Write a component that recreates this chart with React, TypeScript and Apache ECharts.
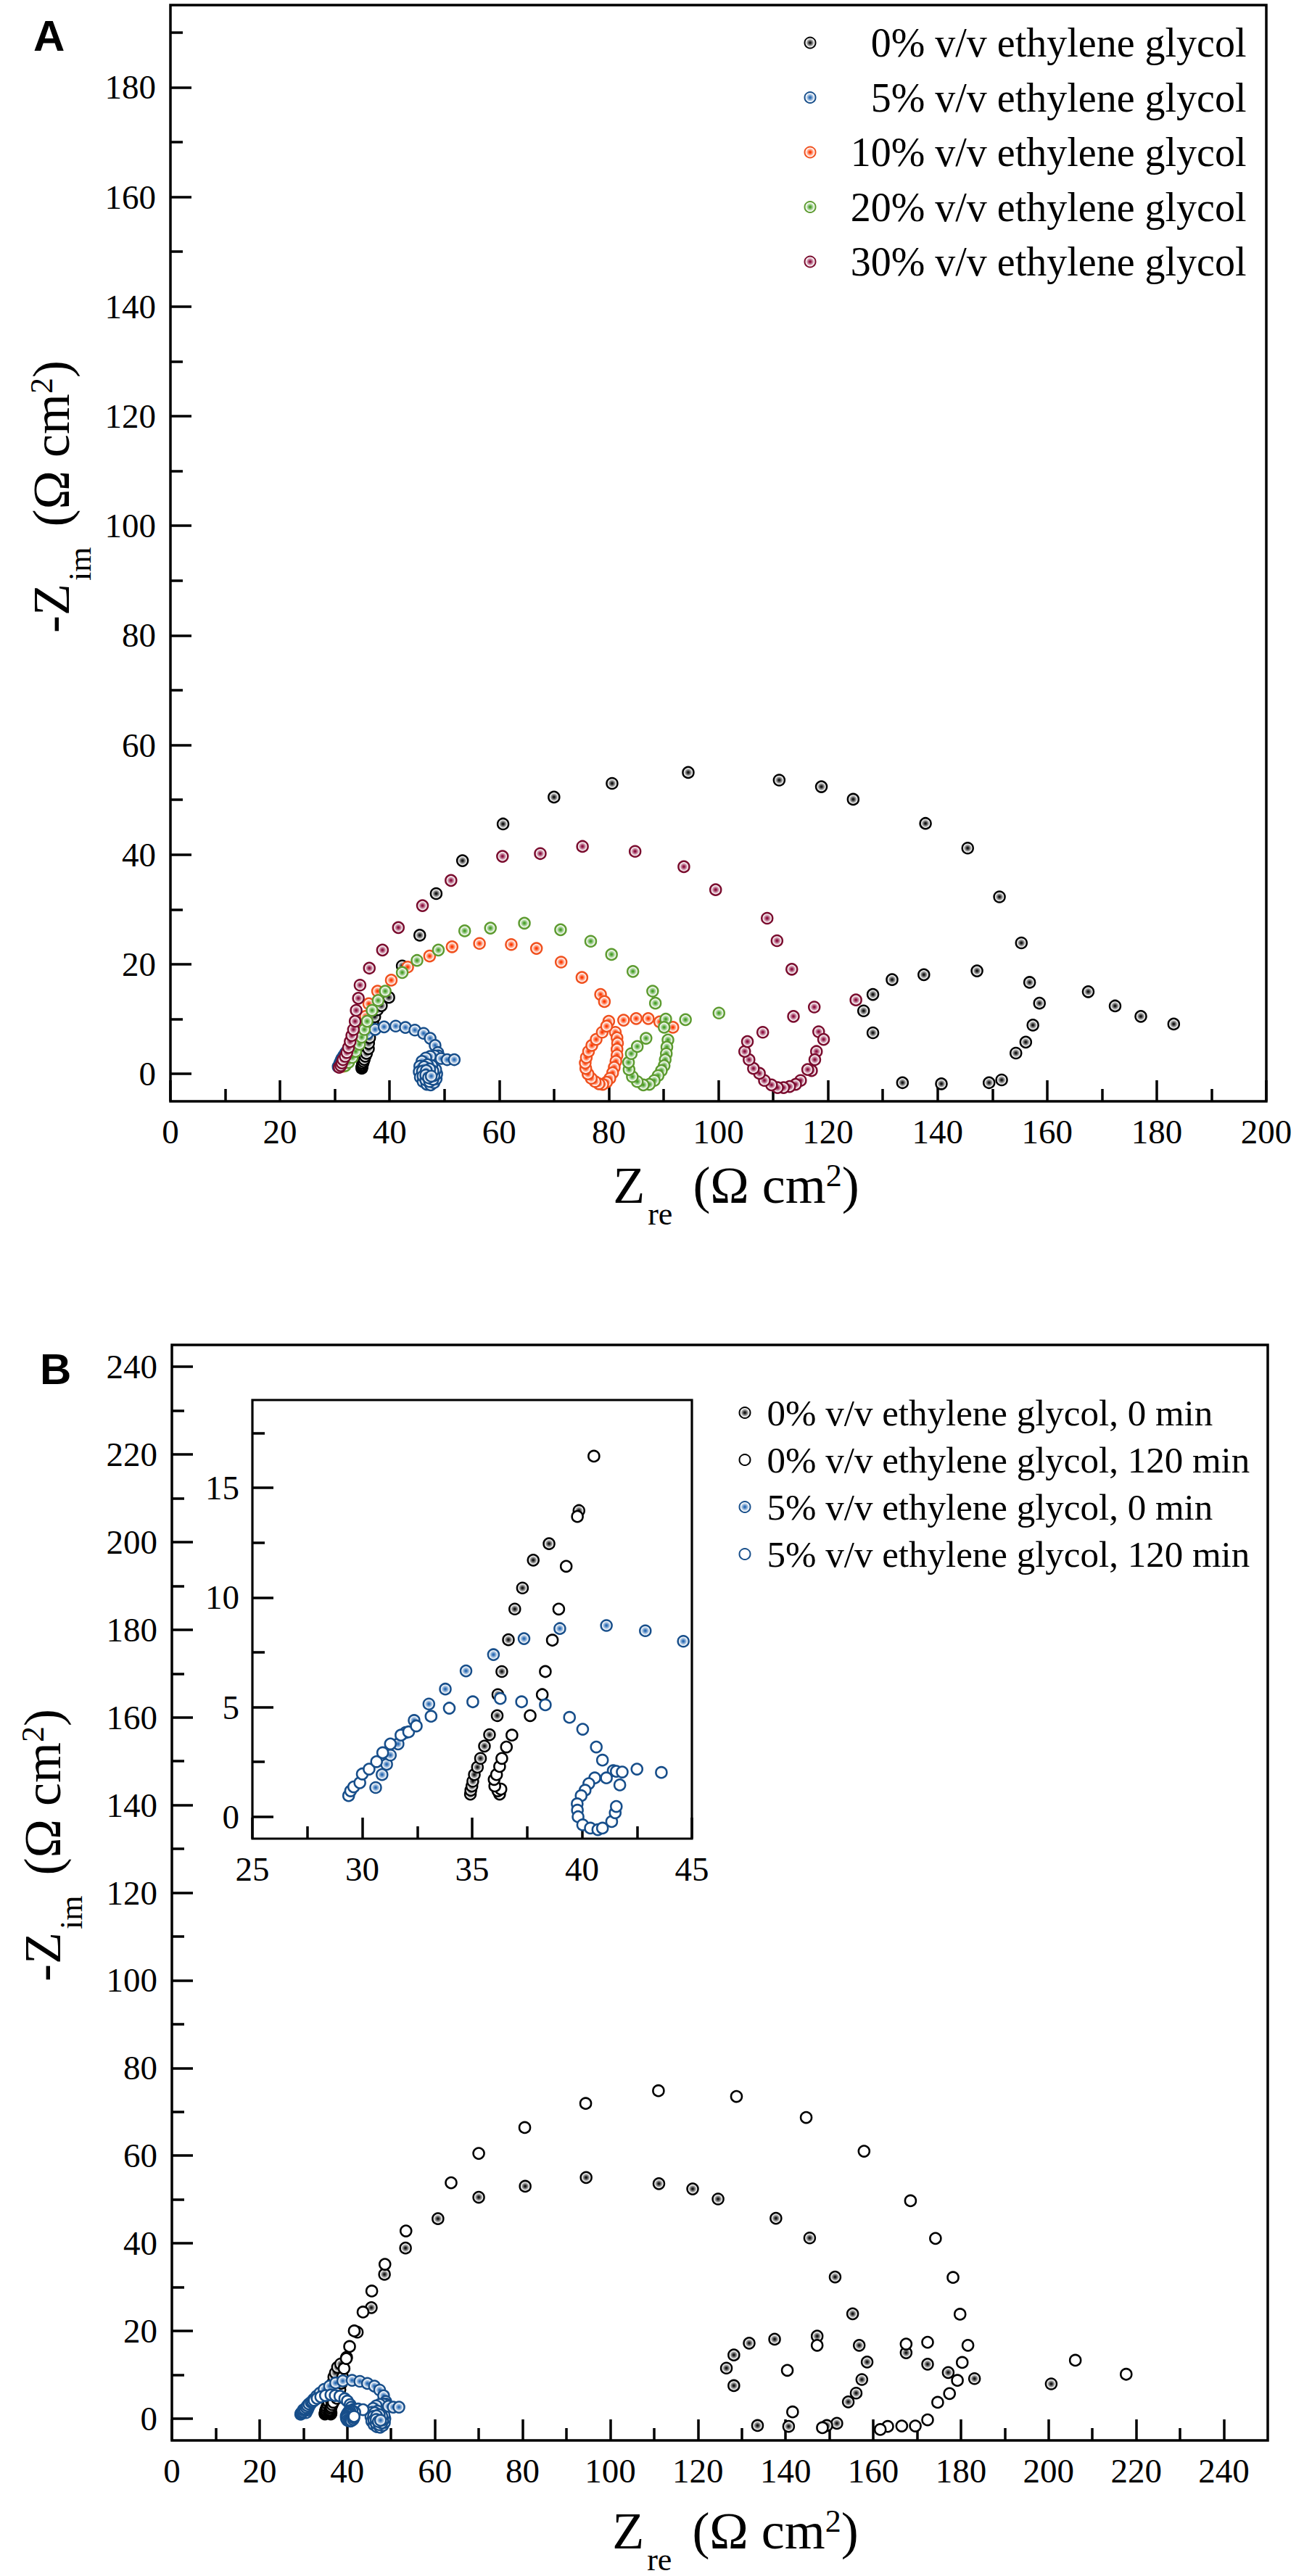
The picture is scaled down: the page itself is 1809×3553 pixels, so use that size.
import React, { useEffect, useRef } from 'react';
import * as echarts from 'echarts';

const SERIF = '"Liberation Serif", "Times New Roman", serif';
const SANS = '"Liberation Sans", Arial, sans-serif';

// ---------- Panel A / B data ----------
const NAMES_A = [
  '0% v/v ethylene glycol',
  '5% v/v ethylene glycol',
  '10% v/v ethylene glycol',
  '20% v/v ethylene glycol',
  '30% v/v ethylene glycol',
];
const NAMES_B = [
  '0% v/v ethylene glycol, 0 min',
  '0% v/v ethylene glycol, 120 min',
  '5% v/v ethylene glycol, 0 min',
  '5% v/v ethylene glycol, 120 min',
];

// 0% v/v, 0 min (filled black)
const EG0_0MIN = [
  [34.92, 1.03], [34.94, 1.21], [34.99, 1.4], [35.03, 1.62], [35.1, 1.92], [35.24, 2.26], [35.38, 2.66],
  [35.56, 3.22], [35.79, 3.74], [36.14, 4.61], [36.17, 5.57], [36.35, 6.62], [36.65, 8.07], [36.94, 9.47],
  [37.29, 10.43], [37.78, 11.7], [38.5, 12.45], [39.86, 13.96],
  [42.3, 19.7], [45.5, 25.3], [48.5, 32.9], [53.3, 38.9], [60.7, 45.6], [70.0, 50.5], [80.6, 53.0],
  [94.5, 55.0], [111.1, 53.6], [118.8, 52.4], [124.6, 50.1], [137.8, 45.7], [145.5, 41.2], [151.3, 32.3],
  [155.3, 23.9], [156.8, 16.7], [158.6, 12.9], [157.4, 8.9], [156.1, 5.8], [154.3, 3.8], [151.7, -1.1],
  [149.4, -1.6], [140.7, -1.8], [133.6, -1.6], [128.2, 7.5], [126.5, 11.5], [128.2, 14.5], [131.7, 17.2],
  [137.5, 18.1], [147.2, 18.8], [167.5, 15.0], [172.4, 12.4], [177.1, 10.5], [183.1, 9.1], [200.6, 7.9],
];

// 5% v/v, 0 min (filled blue)
const EG5_0MIN = [
  [30.61, 1.33], [30.9, 1.92], [31.11, 2.39], [31.28, 2.81], [31.63, 3.32], [31.97, 3.84], [32.36, 4.39],
  [33.03, 5.14], [33.78, 5.82], [34.72, 6.65], [35.97, 7.39], [37.36, 8.12], [38.99, 8.58], [41.11, 8.72],
  [42.88, 8.48], [44.61, 8.0], [46.2, 7.4], [47.4, 6.5], [48.3, 5.2], [48.8, 3.9], [48.9, 3.3],
  [48.2, 3.3], [47.4, 3.2], [46.6, 2.9], [45.9, 2.3], [45.5, 1.4], [45.4, 0.4], [45.6, -0.6], [46.1, -1.4],
  [46.8, -1.9], [47.5, -2.0], [48.1, -1.6], [48.5, -0.9], [48.6, 0.0], [48.4, 0.8],
  [47.7, 1.5], [46.9, 1.7], [46.3, 1.3], [46.0, 0.5], [46.1, -0.4], [46.6, -1.1], [47.3, -1.4], [47.9, -1.0],
  [48.1, -0.3], [47.9, 0.5], [47.3, 0.9], [46.7, 0.6], [46.6, -0.2], [47.1, -0.7], [47.6, -0.4],
  [49.4, 2.8], [50.5, 2.6], [51.8, 2.6],
];

// 10% v/v (orange)
const EG10 = [
  [31.5, 1.4], [31.9, 2.0], [32.4, 3.0], [33.0, 4.2], [33.6, 5.6], [34.3, 7.2], [35.0, 8.8], [35.6, 10.5],
  [36.2, 12.8], [37.8, 15.1], [40.3, 17.1], [43.3, 19.5], [47.3, 21.5], [51.4, 23.2], [56.4, 23.8],
  [62.2, 23.6], [66.8, 22.9], [71.3, 20.4], [75.1, 17.6], [78.5, 14.5], [79.2, 13.2],
  [80.0, 9.6], [82.7, 9.8], [85.0, 10.1], [87.2, 10.1], [89.3, 9.5], [91.7, 8.5],
  [81.2, 7.6], [81.5, 6.6], [81.6, 5.6], [81.5, 4.5], [81.5, 3.4], [81.3, 2.3], [81.0, 1.2], [80.7, 0.2],
  [80.2, -0.8], [79.6, -1.5], [78.9, -1.9], [78.2, -1.8], [77.5, -1.4], [76.8, -0.8], [76.2, 0.0],
  [75.8, 1.0], [75.7, 2.0], [75.9, 3.0], [76.3, 4.1], [76.9, 5.2], [77.7, 6.3], [78.8, 7.6], [79.6, 8.7],
];

// 20% v/v (green)
const EG20 = [
  [31.9, 1.5], [32.5, 2.1], [33.2, 3.0], [33.8, 4.1], [34.5, 5.4], [34.9, 6.7], [35.4, 8.1], [35.9, 9.6],
  [36.8, 11.6], [37.9, 13.4], [39.2, 15.1], [42.3, 18.5], [45.0, 20.7], [48.9, 22.6], [53.7, 26.1],
  [58.4, 26.6], [64.6, 27.5], [71.2, 26.3], [76.7, 24.2], [80.5, 21.8], [84.4, 18.7], [88.0, 15.1],
  [88.5, 12.9], [100.1, 11.1], [94.0, 9.9], [90.4, 10.0], [90.1, 8.5], [90.8, 6.2], [90.6, 4.9],
  [90.5, 3.7], [90.3, 2.6], [90.1, 1.5], [89.6, 0.6], [89.0, -0.3], [88.3, -1.2], [87.4, -1.9],
  [86.3, -2.0], [85.2, -1.4], [84.3, -0.5], [83.7, 0.8], [83.6, 2.1], [84.1, 3.7], [85.2, 5.0], [86.8, 6.5],
];

// 30% v/v (crimson)
const EG30 = [
  [30.8, 1.2], [31.1, 1.5], [31.3, 2.0], [31.5, 2.6], [31.9, 3.2], [32.2, 3.9], [32.5, 4.8], [32.8, 5.9],
  [33.1, 7.0], [33.4, 8.1], [33.7, 9.6], [33.9, 11.6], [34.3, 13.8], [34.6, 16.2], [36.3, 19.3],
  [38.7, 22.6], [41.6, 26.7], [46.0, 30.7], [51.2, 35.3], [60.6, 39.7], [67.5, 40.2], [75.2, 41.5],
  [84.8, 40.6], [93.7, 37.8], [99.5, 33.6], [108.9, 28.4], [110.7, 24.3], [113.4, 19.1], [113.7, 10.5],
  [117.5, 12.2], [118.3, 7.7], [119.2, 6.3], [117.9, 4.1], [117.6, 2.6], [117.0, 0.6], [116.3, 0.8],
  [115.0, -1.2], [114.1, -1.9], [113.0, -2.3], [111.9, -2.5], [110.8, -2.5], [109.7, -2.0], [108.4, -1.2],
  [107.5, 0.1], [106.4, 1.0], [105.6, 2.6], [104.8, 4.1], [105.3, 5.9], [108.1, 7.6], [125.1, 13.5],
];

// 0% v/v, 120 min (open black)
const EG0_120MIN = [
  [36.25, 1.03], [36.17, 1.18], [36.31, 1.26], [36.03, 1.4], [36.0, 1.7], [36.11, 1.92], [36.25, 2.29],
  [36.35, 2.66], [36.56, 3.18], [36.81, 3.72], [37.64, 4.61], [38.19, 5.57], [38.33, 6.62], [38.65, 8.05],
  [38.94, 9.47], [39.28, 11.42], [39.79, 13.69], [40.54, 16.44],
  [41.6, 20.0], [43.6, 24.3], [45.6, 29.1], [48.6, 35.2], [53.4, 42.8], [63.7, 53.8], [70.0, 60.5],
  [80.5, 66.4], [94.4, 71.9], [111.0, 74.8], [128.8, 73.5], [144.7, 68.7], [157.9, 61.0], [168.5, 49.7],
  [174.2, 41.1], [178.2, 32.2], [179.8, 23.8], [181.6, 16.7], [180.3, 12.8], [179.2, 8.7], [177.4, 5.7],
  [174.7, 3.7], [172.4, -0.3], [169.6, -1.7], [166.5, -1.7], [163.3, -1.8], [161.6, -2.5], [148.4, -2.1],
  [141.6, 1.5], [140.4, 11.0], [147.2, 16.7], [167.5, 17.0], [172.4, 17.4], [206.1, 13.3], [217.7, 10.1],
];

// 5% v/v, 120 min (open blue)
const EG5_120MIN = [
  [29.38, 0.96], [29.47, 1.18], [29.61, 1.36], [29.89, 1.55], [30.0, 1.95], [30.31, 2.17], [30.65, 2.51],
  [30.93, 2.92], [31.28, 3.32], [31.76, 3.72], [32.11, 3.87], [32.46, 4.14], [33.13, 4.58], [33.96, 4.95],
  [35.03, 5.24], [36.28, 5.39], [37.25, 5.24], [38.33, 5.1], [39.43, 4.53], [40.03, 3.99], [40.65, 3.18],
  [40.93, 2.58], [41.42, 2.1], [41.56, 2.07], [41.83, 2.04], [42.5, 2.17], [43.61, 2.02], [41.72, 1.45],
  [41.11, 1.77], [40.58, 1.77], [40.31, 1.51], [40.14, 1.21], [39.96, 0.96], [39.78, 0.59], [39.79, 0.3],
  [39.82, 0.0], [40.03, -0.37], [40.38, -0.52], [40.72, -0.59], [40.93, -0.52], [41.35, -0.22],
  [41.51, 0.18], [41.56, 0.47],
];

// ---------- Tick values ----------
const A_X_MAJOR = [0, 20, 40, 60, 80, 100, 120, 140, 160, 180, 200];
const A_X_MINOR = [10, 30, 50, 70, 90, 110, 130, 150, 170, 190];
const A_Y_MAJOR = [0, 20, 40, 60, 80, 100, 120, 140, 160, 180];
const A_Y_MINOR = [10, 30, 50, 70, 90, 110, 130, 150, 170, 190];
const B_X_MAJOR = [0, 20, 40, 60, 80, 100, 120, 140, 160, 180, 200, 220, 240];
const B_X_MINOR = [10, 30, 50, 70, 90, 110, 130, 150, 170, 190, 210, 230];
const B_Y_MAJOR = [0, 20, 40, 60, 80, 100, 120, 140, 160, 180, 200, 220, 240];
const B_Y_MINOR = [10, 30, 50, 70, 90, 110, 130, 150, 170, 190, 210, 230];
const IN_X_MAJOR = [25, 30, 35, 40, 45];
const IN_X_MINOR = [27.5, 32.5, 37.5, 42.5];
const IN_Y_MAJOR = [0, 5, 10, 15];
const IN_Y_MINOR = [2.5, 7.5, 12.5, 17.5];

const COL = {
  black: { fill: '#141414', border: '#000000' },
  blue: { fill: '#2b6cb5', border: '#174e8a' },
  orange: { fill: '#ff3a00', border: '#f0501e' },
  green: { fill: '#48a028', border: '#5d9b30' },
  crimson: { fill: '#8e1040', border: '#7a0c2e' },
};

function filled(c: { fill: string; border: string }) {
  return {
    color: {
      type: 'radial', x: 0.5, y: 0.5, r: 0.5,
      colorStops: [
        { offset: 0, color: c.fill },
        { offset: 0.12, color: c.fill },
        { offset: 0.8, color: '#ffffff' },
        { offset: 1, color: '#ffffff' },
      ],
    },
    borderColor: c.border,
    borderWidth: 2.5,
    opacity: 1,
  };
}
function open(c: { fill: string; border: string }) {
  return { color: '#ffffff', borderColor: c.border, borderWidth: 2.6, opacity: 1 };
}

function scatter(name: string, data: number[][], axisIndex: number, itemStyle: any, z = 2) {
  return {
    type: 'scatter', name, data, xAxisIndex: axisIndex, yAxisIndex: axisIndex,
    symbol: 'circle', symbolSize: 15, itemStyle, clip: true, silent: true, z,
    emphasis: { disabled: true },
  };
}

function axisPair(dim: 'x' | 'y', gridIndex: number, min: number, max: number,
  major: number[], minor: number[], margin: number) {
  const base = {
    type: 'value', gridIndex, min, max, position: dim === 'x' ? 'bottom' : 'left',
    axisLine: { show: false, onZero: false },
    splitLine: { show: false },
  };
  return [
    {
      ...base,
      axisTick: { show: true, inside: true, length: 29, customValues: major, lineStyle: { color: '#000', width: 3.5 } },
      axisLabel: { show: true, customValues: major, margin, color: '#000', fontSize: 47, fontFamily: SERIF },
    },
    {
      ...base,
      axisTick: { show: true, inside: true, length: 17, customValues: minor, lineStyle: { color: '#000', width: 3.5 } },
      axisLabel: { show: false },
    },
  ];
}

function titleRich(big: number) {
  return {
    a: { fontSize: big, fontFamily: SERIF, lineHeight: 80, verticalAlign: 'top', fill: '#000' },
    b: { fontSize: 44, fontFamily: SERIF, lineHeight: 150, verticalAlign: 'middle', padding: [0, 10, 0, 4], fill: '#000' },
    c: { fontSize: 44, fontFamily: SERIF, lineHeight: 36, verticalAlign: 'top', fill: '#000' },
  };
}

export default function App() {
  const ref = useRef<HTMLDivElement>(null);
  useEffect(() => {
    if (!ref.current) return;
    const chart = echarts.init(ref.current, undefined, { renderer: 'svg' });
    const [axA, axAm] = axisPair('x', 0, 0, 200, A_X_MAJOR, A_X_MINOR, 18);
    const [ayA, ayAm] = axisPair('y', 0, -5, 195, A_Y_MAJOR, A_Y_MINOR, 20);
    const [axB, axBm] = axisPair('x', 1, 0, 250, B_X_MAJOR, B_X_MINOR, 18);
    const [ayB, ayBm] = axisPair('y', 1, -5, 245, B_Y_MAJOR, B_Y_MINOR, 20);
    const [axI, axIm] = axisPair('x', 2, 25, 45, IN_X_MAJOR, IN_X_MINOR, 18);
    const [ayI, ayIm] = axisPair('y', 2, -1, 19, IN_Y_MAJOR, IN_Y_MINOR, 18);

    const option: any = {
      animation: false,
      backgroundColor: '#ffffff',
      grid: [
        { left: 235, top: 7, width: 1511, height: 1512, show: true, borderColor: '#000', borderWidth: 3.5, backgroundColor: 'transparent' },
        { left: 237, top: 1855, width: 1511, height: 1511, show: true, borderColor: '#000', borderWidth: 3.5, backgroundColor: 'transparent' },
        { left: 348, top: 1931, width: 606, height: 605, show: true, borderColor: '#000', borderWidth: 3.2, backgroundColor: '#ffffff', z: 5 },
      ],
      // order: A major, A minor, B major, B minor, inset major, inset minor
      xAxis: [axA, axAm, axB, axBm, { ...axI, z: 6 }, { ...axIm, z: 6 }],
      yAxis: [ayA, ayAm, ayB, ayBm, { ...ayI, z: 6 }, { ...ayIm, z: 6 }],
      legend: [
        {
          orient: 'vertical', left: 1103.5, top: 26, itemWidth: 15, itemHeight: 15, itemGap: 19.5,
          selectedMode: false, data: NAMES_A,
          formatter: (n: string) => `{r|${n}}`,
          textStyle: {
            color: '#000', fontFamily: SERIF, fontSize: 56,
            rich: { r: { width: 589, align: 'right', fontSize: 56, lineHeight: 50, fontFamily: SERIF, color: '#000' } },
          },
        },
        {
          orient: 'vertical', left: 1013.5, top: 1918, itemWidth: 15, itemHeight: 15, itemGap: 14,
          selectedMode: false, data: NAMES_B,
          formatter: (n: string) => `{l|${n}}`,
          textStyle: {
            color: '#000', fontFamily: SERIF, fontSize: 51,
            rich: { l: { fontSize: 51, lineHeight: 46, padding: [0, 0, 0, 18], fontFamily: SERIF, color: '#000' } },
          },
        },
      ],
      series: [
        scatter(NAMES_A[0], EG0_0MIN, 0, filled(COL.black)),
        scatter(NAMES_A[1], EG5_0MIN, 0, filled(COL.blue)),
        scatter(NAMES_A[2], EG10, 0, filled(COL.orange)),
        scatter(NAMES_A[3], EG20, 0, filled(COL.green)),
        scatter(NAMES_A[4], EG30, 0, filled(COL.crimson)),

        scatter(NAMES_B[0], EG0_0MIN, 2, filled(COL.black)),
        scatter(NAMES_B[1], EG0_120MIN, 2, open(COL.black)),
        scatter(NAMES_B[2], EG5_0MIN, 2, filled(COL.blue)),
        scatter(NAMES_B[3], EG5_120MIN, 2, open(COL.blue)),

        scatter(NAMES_B[0], EG0_0MIN, 4, filled(COL.black), 7),
        scatter(NAMES_B[1], EG0_120MIN, 4, open(COL.black), 7),
        scatter(NAMES_B[2], EG5_0MIN, 4, filled(COL.blue), 7),
        scatter(NAMES_B[3], EG5_120MIN, 4, open(COL.blue), 7),
      ],
      graphic: [
        { type: 'text', x: 46, y: 19, style: { text: 'A', fontFamily: SANS, fontWeight: 'bold', fontSize: 60, fill: '#000', align: 'left', verticalAlign: 'top' } },
        { type: 'text', x: 55, y: 1858, style: { text: 'B', fontFamily: SANS, fontWeight: 'bold', fontSize: 60, fill: '#000', align: 'left', verticalAlign: 'top' } },
        {
          type: 'text', x: 1015, y: 1599,
          style: { text: '{a|Z}{b|re}{a| (Ω cm}{c|2}{a|)}', rich: titleRich(72), align: 'center', verticalAlign: 'top', fill: '#000' },
        },
        {
          type: 'text', x: 1014, y: 3455,
          style: { text: '{a|Z}{b|re}{a| (Ω cm}{c|2}{a|)}', rich: titleRich(72), align: 'center', verticalAlign: 'top', fill: '#000' },
        },
        {
          type: 'text', x: 35, y: 685, rotation: Math.PI / 2,
          style: { text: '{a|-Z}{b|im}{a| (Ω cm}{c|2}{a|)}', rich: titleRich(72), align: 'center', verticalAlign: 'top', fill: '#000' },
        },
        {
          type: 'text', x: 23, y: 2545, rotation: Math.PI / 2,
          style: { text: '{a|-Z}{b|im}{a| (Ω cm}{c|2}{a|)}', rich: titleRich(72), align: 'center', verticalAlign: 'top', fill: '#000' },
        },
      ],
    };
    chart.setOption(option);
    return () => chart.dispose();
  }, []);
  return (
    <div
      ref={ref}
      style={{ position: 'absolute', left: 0, top: 0, width: 1809, height: 3553, background: '#fff' }}
    />
  );
}
